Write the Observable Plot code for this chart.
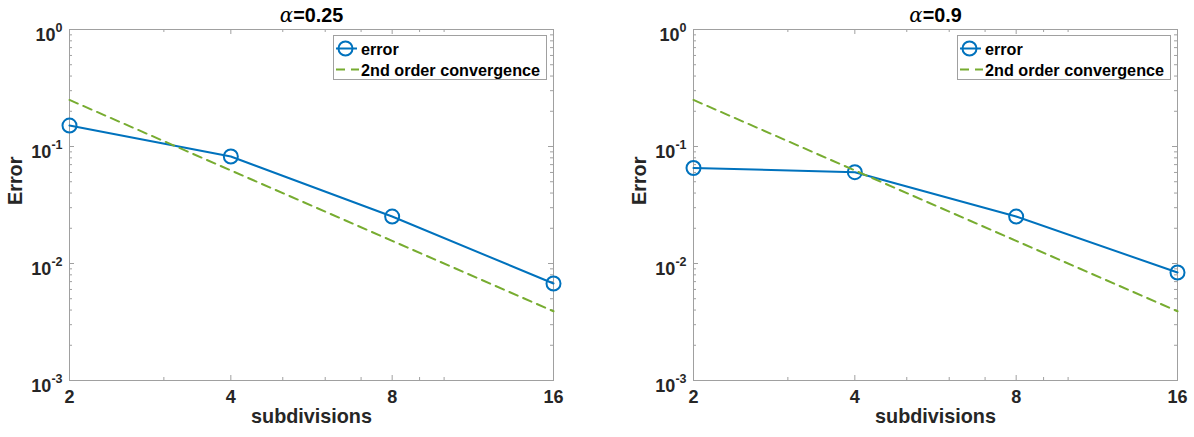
<!DOCTYPE html>
<html>
<head>
<meta charset="utf-8">
<script src="https://cdn.jsdelivr.net/npm/d3@7"></script>
<script src="https://cdn.jsdelivr.net/npm/@observablehq/plot@0.6"></script>
<style>
  html, body { margin: 0; padding: 0; background: #fff; }
  #chart { display: flex; width: 1194px; height: 437px; }
  #chart svg { display: block; }
</style>
</head>
<body>
<div id="chart"></div>
<script>
// Convergence study: error against number of subdivisions, log-log axes
const subdivisions = [2, 4, 8, 16];
const errorAlpha025 = [0.151, 0.0821, 0.0252, 0.00675];
const errorAlpha09 = [0.0655, 0.0603, 0.0252, 0.00838];
const secondOrder = [0.25, 0.0625, 0.015625, 0.00390625];

const panelTitles = ["α=0.25", "α=0.9"];
const legendLabels = ["error", "2nd order convergence"];

const xMajorTicks = [2, 4, 8, 16];
const xTickLabels = ["2", "4", "8", "16"];
const xMinorTicks = [3, 5, 6, 7, 9, 10];
const yMajorTicks = [1, 0.1, 0.01, 0.001];
const yTickLabels = ["10^0", "10^-1", "10^-2", "10^-3"];
const yMinorTicks = [
  0.002, 0.003, 0.004, 0.005, 0.006, 0.007, 0.008, 0.009,
  0.02, 0.03, 0.04, 0.05, 0.06, 0.07, 0.08, 0.09,
  0.2, 0.3, 0.4, 0.5, 0.6, 0.7, 0.8, 0.9
];

const BLUE = "#0072BD";
const GREEN = "#77AC30";
const AXIS = "#a0a0a0";
const INK = "#262626";
const FONT = "'Liberation Sans', Arial, Helvetica, sans-serif";

const W = 597, H = 437;
const MT = 29, MB = 57;
const PLOT_W = 484, PLOT_H = H - MT - MB;

function panel(title, errors, marginLeft) {
  const marginRight = W - marginLeft - PLOT_W;
  const errData = subdivisions.map((n, i) => ({n, e: errors[i]}));
  const refData = subdivisions.map((n, i) => ({n, e: secondOrder[i]}));

  const svg = Plot.plot({
    width: W,
    height: H,
    marginLeft, marginRight, marginTop: MT, marginBottom: MB,
    style: {fontFamily: FONT, background: "#fff", overflow: "visible"},
    x: {type: "log", domain: [2, 16], axis: null},
    y: {type: "log", domain: [0.001, 1], axis: null},
    marks: [
      // inward ticks on all four sides
      Plot.ruleY(yMajorTicks, {y: d => d, insetRight: PLOT_W - 5, stroke: AXIS}),
      Plot.ruleY(yMajorTicks, {y: d => d, insetLeft: PLOT_W - 5, stroke: AXIS}),
      Plot.ruleY(yMinorTicks, {y: d => d, insetRight: PLOT_W - 3, stroke: AXIS}),
      Plot.ruleY(yMinorTicks, {y: d => d, insetLeft: PLOT_W - 3, stroke: AXIS}),
      Plot.ruleX(xMajorTicks, {x: d => d, insetTop: PLOT_H - 5, stroke: AXIS}),
      Plot.ruleX(xMajorTicks, {x: d => d, insetBottom: PLOT_H - 5, stroke: AXIS}),
      Plot.ruleX(xMinorTicks, {x: d => d, insetTop: PLOT_H - 3, stroke: AXIS}),
      Plot.ruleX(xMinorTicks, {x: d => d, insetBottom: PLOT_H - 3, stroke: AXIS}),
      Plot.frame({stroke: AXIS, strokeWidth: 1}),
      // tick labels
      Plot.text(xMajorTicks, {
        x: d => d, text: (d, i) => xTickLabels[i],
        frameAnchor: "bottom", lineAnchor: "top", dy: 10,
        fontSize: 18, fontWeight: "bold", fill: INK
      }),
      Plot.text(yMajorTicks, {
        y: d => d, text: (d, i) => yTickLabels[i],
        frameAnchor: "left", textAnchor: "end", lineAnchor: "bottom",
        dx: -7, dy: 11.5, fontSize: 18, fontWeight: "bold", fill: INK
      }),
      // axis labels and title
      Plot.text(["Error"], {
        text: d => d, frameAnchor: "left", rotate: -90, dx: -54,
        fontSize: 19.8, fontWeight: "bold", fill: INK
      }),
      Plot.text(["subdivisions"], {
        text: d => d, frameAnchor: "bottom", dy: 42.5,
        fontSize: 19.8, fontWeight: "bold", fill: INK
      }),
      Plot.text([title], {
        text: d => d, frameAnchor: "top", lineAnchor: "bottom", dy: -8,
        fontSize: 19.8, fontWeight: "bold", fill: "#000"
      }),
      // data
      Plot.line(errData, {x: "n", y: "e", stroke: BLUE, strokeWidth: 2}),
      Plot.dot(errData, {x: "n", y: "e", r: 7, stroke: BLUE, strokeWidth: 2, fill: "none"}),
      Plot.line(refData, {x: "n", y: "e", stroke: GREEN, strokeWidth: 2, strokeDasharray: "9,6"})
    ]
  });

  const root = d3.select(svg);

  root.selectAll("text").each(function () {
    const s = this.textContent;
    const t = d3.select(this);
    if (s.includes("^")) {
      // superscript exponents on the y tick labels
      const [base, exp] = s.split("^");
      t.text(base);
      t.append("tspan").attr("dy", -9).attr("font-size", 12.5).text(exp);
    } else if (s === title) {
      // Greek letter in italic serif, rest in bold sans
      t.text("");
      t.append("tspan")
        .attr("font-family", "'DejaVu Serif', 'Liberation Serif', serif")
        .attr("font-style", "italic")
        .attr("font-weight", "normal")
        .text(s[0]);
      t.append("tspan").text(s.slice(1));
    }
  });

  // legend box in the upper right corner of the axes
  const bw = 213, bh = 44;
  const bx = marginLeft + PLOT_W - 7 - bw, by = 35.5;
  const g = root.append("g").attr("font-family", FONT).attr("font-weight", "bold")
    .attr("font-size", 16.2).attr("fill", "#000").attr("text-anchor", "start");
  g.append("rect").attr("x", bx + 0.5).attr("y", by).attr("width", bw).attr("height", bh)
    .attr("fill", "#fff").attr("stroke", AXIS).attr("stroke-width", 1);
  const r1 = by + 13, r2 = by + 34;
  g.append("line").attr("x1", bx + 3).attr("x2", bx + 24).attr("y1", r1).attr("y2", r1)
    .attr("stroke", BLUE).attr("stroke-width", 2);
  g.append("circle").attr("cx", bx + 12.5).attr("cy", r1).attr("r", 7)
    .attr("fill", "none").attr("stroke", BLUE).attr("stroke-width", 2);
  g.append("text").attr("x", bx + 28).attr("y", r1 + 6).text(legendLabels[0]);
  g.append("line").attr("x1", bx + 3).attr("x2", bx + 26).attr("y1", r2).attr("y2", r2)
    .attr("stroke", GREEN).attr("stroke-width", 2).attr("stroke-dasharray", "9,6");
  g.append("text").attr("x", bx + 28).attr("y", r2 + 6).text(legendLabels[1]);

  return svg;
}

const chart = document.getElementById("chart");
chart.appendChild(panel(panelTitles[0], errorAlpha025, 69));
chart.appendChild(panel(panelTitles[1], errorAlpha09, 96));
</script>
</body>
</html>
